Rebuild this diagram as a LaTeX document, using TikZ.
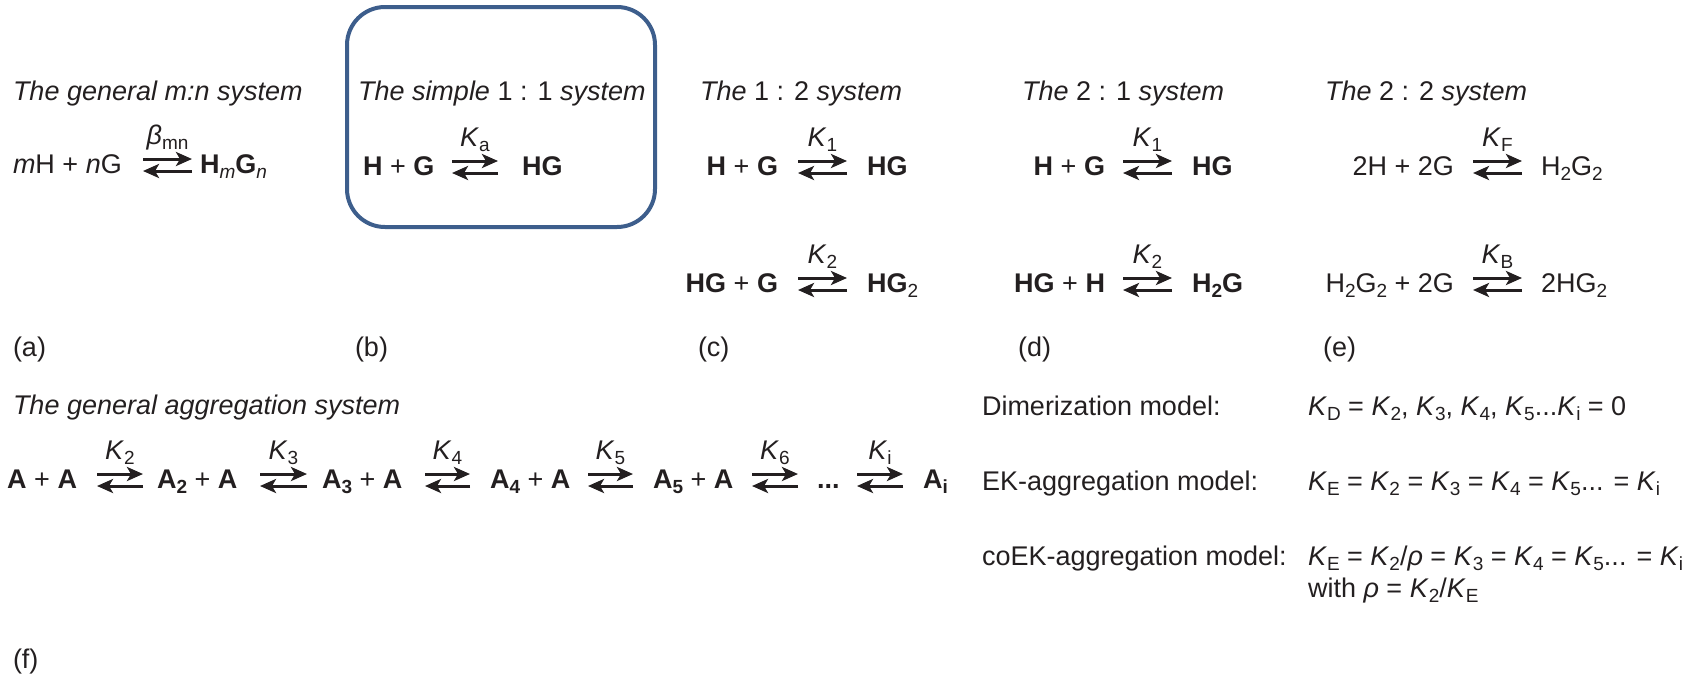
\documentclass[tikz,border=0pt]{standalone}
\usepackage{fontspec}
\setmainfont{Liberation Sans}
\usetikzlibrary{arrows.meta}
\definecolor{boxblue}{RGB}{61,94,140}
\definecolor{ink}{RGB}{35,31,32}
\newcommand\sbs[1]{\raisebox{-5pt}{\fontsize{19}{19}\selectfont #1}}
\newcommand\KK[1]{\textit{K}\sbs{#1}}
% name, x1, x2, baseline, label
\newcommand\eqarr[5]{%
  \coordinate (#1a) at (#2,#4-14);
  \coordinate (#1b) at (#3,#4-14);
  \coordinate (#1c) at (#2,#4-2);
  \coordinate (#1d) at (#3,#4-2);
  \draw[fwd] (#1a) -- (#1b);
  \draw[fwd] (#1d) -- (#1c);
  \node[lbl] (#1k) at ({(#2+#3)/2},#4-29) {#5};
}
\begin{document}
\begin{tikzpicture}[x=1pt,y=-1pt,
  every node/.style={inner sep=0pt, outer sep=0pt, text=ink, font=\fontsize{27}{32}\selectfont},
  tl/.style={anchor=base west},
  tr/.style={anchor=base east},
  lbl/.style={anchor=base},
  fwd/.style={draw=ink, line width=3pt, -{Stealth[length=16pt,width=14pt,inset=4pt]}}]
\useasboundingbox (0,0) rectangle (1689,675);

% (a)
\node[tl] (atitle) at (13,100) {\textit{The general m:n system}};
\node[tl] (are) at (13,173) {\textit{m}H + \textit{n}G};
\eqarr{aa}{143}{192}{173}{\textit{β}\sbs{mn}}
\node[tl] (apr) at (200,173) {\textbf{H}\sbs{\textit{m}}\textbf{G}\sbs{\textit{n}}};
\node[tl] (alab) at (13,356) {(a)};

% (b)
\node[draw=boxblue, line width=4pt, rounded corners=38pt, minimum width=308pt, minimum height=220pt] (bbox) at (501,117) {};
\node[tl] (btitle) at (358,100) {\textit{The simple} 1 : 1 \textit{system}};
\node[tl] (bre) at (363,175) {\textbf{H} + \textbf{G}};
\eqarr{ba}{452}{498}{175}{\KK{a}}
\node[tl] (bpr) at (522,175) {\textbf{HG}};
\node[tl] (blab) at (355,356) {(b)};

% (c)
\node[tl] (ctitle) at (700,100) {\textit{The} 1 : 2 \textit{system}};
\node[tr] (cre1) at (778,175) {\textbf{H} + \textbf{G}};
\eqarr{ca}{798}{847}{175}{\KK{1}}
\node[tl] (cpr1) at (867,175) {\textbf{HG}};
\node[tr] (cre2) at (778,292) {\textbf{HG} + \textbf{G}};
\eqarr{cb}{798}{847}{292}{\KK{2}}
\node[tl] (cpr2) at (867,292) {\textbf{HG}\sbs{2}};
\node[tl] (clab) at (698,356) {(c)};

% (d)
\node[tl] (dtitle) at (1022,100) {\textit{The} 2 : 1 \textit{system}};
\node[tr] (dre1) at (1105,175) {\textbf{H} + \textbf{G}};
\eqarr{da}{1123}{1172}{175}{\KK{1}}
\node[tl] (dpr1) at (1192,175) {\textbf{HG}};
\node[tr] (dre2) at (1105,292) {\textbf{HG} + \textbf{H}};
\eqarr{db}{1123}{1172}{292}{\KK{2}}
\node[tl] (dpr2) at (1192,292) {\textbf{H\sbs{2}G}};
\node[tl] (dlab) at (1018,356) {(d)};

% (e)
\node[tl] (etitle) at (1325,100) {\textit{The} 2 : 2 \textit{system}};
\node[tr] (ere1) at (1454,175) {2H + 2G};
\eqarr{ea}{1473}{1522}{175}{\KK{F}}
\node[tl] (epr1) at (1541,175) {H\sbs{2}G\sbs{2}};
\node[tr] (ere2) at (1454,292) {H\sbs{2}G\sbs{2} + 2G};
\eqarr{eb}{1473}{1522}{292}{\KK{B}}
\node[tl] (epr2) at (1541,292) {2HG\sbs{2}};
\node[tl] (elab) at (1323,356) {(e)};

% (f) aggregation
\node[tl] (ftitle) at (13,414) {\textit{The general aggregation system}};
\node[tr] (g1) at (77,488) {\textbf{A} + \textbf{A}};
\eqarr{g1a}{97}{143}{488}{\KK{2}}
\node[tl] (g2) at (157,488) {\textbf{A\sbs{2}} + \textbf{A}};
\eqarr{g2a}{260}{307}{488}{\KK{3}}
\node[tl] (g3) at (322,488) {\textbf{A\sbs{3}} + \textbf{A}};
\eqarr{g3a}{425}{470}{488}{\KK{4}}
\node[tl] (g4) at (490,488) {\textbf{A\sbs{4}} + \textbf{A}};
\eqarr{g4a}{588}{633}{488}{\KK{5}}
\node[tl] (g5) at (653,488) {\textbf{A\sbs{5}} + \textbf{A}};
\eqarr{g5a}{752}{798}{488}{\KK{6}}
\node[tl] (g6) at (817,488) {\textbf{...}};
\eqarr{g6a}{857}{903}{488}{\KK{i}}
\node[tl] (g7) at (923,488) {\textbf{A\sbs{i}}};

% models
\node[tl] (m1) at (982,415) {Dimerization model:};
\node[tl] (m1f) at (1308,415) {\KK{D} = \KK{2}, \KK{3}, \KK{4}, \KK{5}...\KK{i} = 0};
\node[tl] (m2) at (982,490) {EK-aggregation model:};
\node[tl] (m2f) at (1308,490) {\KK{E} = \KK{2} = \KK{3} = \KK{4} = \KK{5}... = \KK{i}};
\node[tl] (m3) at (982,565) {coEK-aggregation model:};
\node[tl] (m3f) at (1308,565) {\KK{E} = \KK{2}/\textit{ρ} = \KK{3} = \KK{4} = \KK{5}... = \KK{i}};
\node[tl] (m3g) at (1308,597) {with \textit{ρ} = \KK{2}/\KK{E}};
\node[tl] (flab) at (13,668) {(f)};
\end{tikzpicture}
\end{document}
